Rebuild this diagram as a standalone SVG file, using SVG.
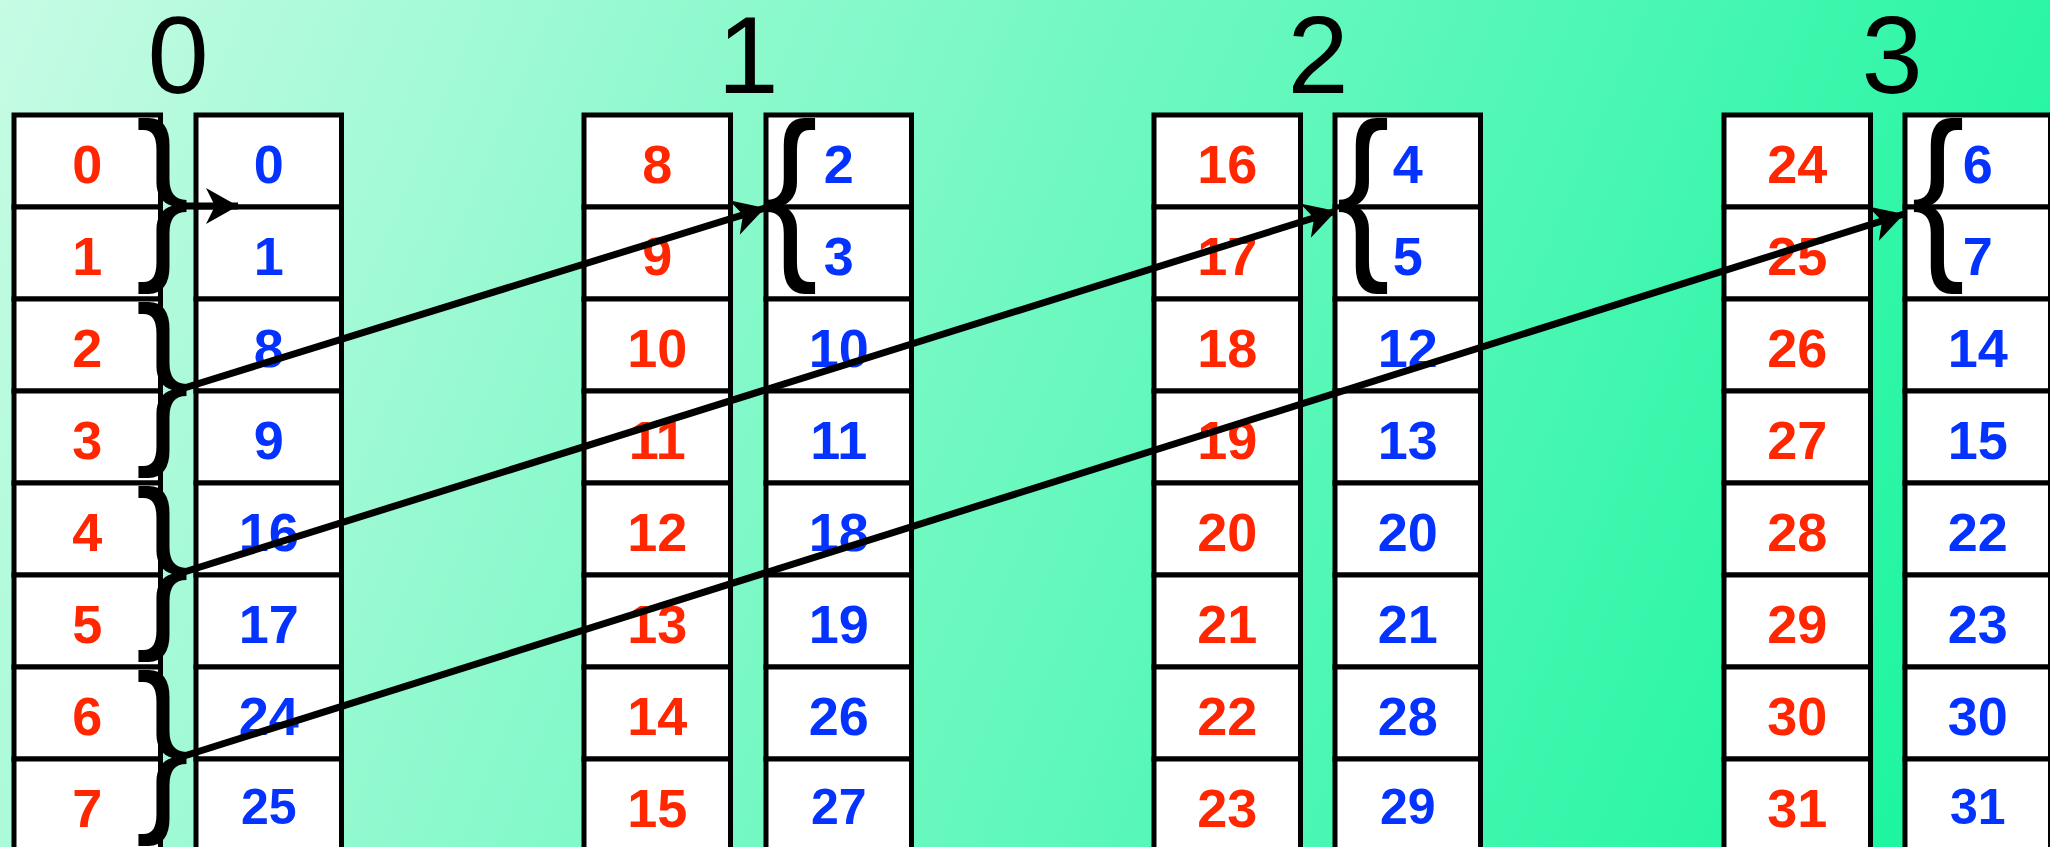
<svg xmlns="http://www.w3.org/2000/svg" width="2050" height="847" viewBox="0 0 2050 847">
<defs>
<linearGradient id="bg" gradientUnits="userSpaceOnUse" x1="0" y1="0" x2="2050" y2="847">
<stop offset="0" stop-color="#C6FBE4"/>
<stop offset="1" stop-color="#12F59C"/>
</linearGradient>
<marker id="ah" markerUnits="userSpaceOnUse" markerWidth="40" markerHeight="40" viewBox="-34 -20 40 40" refX="0" refY="0" orient="auto">
<path d="M0,0 L-32,-18 L-23,0 L-32,18 Z" fill="#000"/>
</marker>
<style>
.c{fill:#fff;stroke:#000;stroke-width:5}
.r{font-family:"Liberation Sans",Arial,sans-serif;font-weight:bold;font-size:54px;fill:#FF2600;text-anchor:middle}
.b{font-family:"Liberation Sans",Arial,sans-serif;font-weight:bold;font-size:54px;fill:#0433FF;text-anchor:middle}
.bs{font-size:50px}
.h{font-family:"Liberation Sans",Arial,sans-serif;font-size:110px;fill:#000;text-anchor:middle}
.br{font-family:"Liberation Sans",Arial,sans-serif;font-size:189px;fill:#000;text-anchor:middle}
.a{fill:none;stroke:#000;stroke-width:7;marker-end:url(#ah)}
</style>
</defs>
<rect x="0" y="0" width="2050" height="847" fill="url(#bg)"/>

<g id="labels">
<text class="h" x="178" y="93">0</text>
<text class="h" x="748" y="93">1</text>
<text class="h" x="1318" y="93">2</text>
<text class="h" x="1892" y="93">3</text>
</g>

<g id="red0">
<rect class="c" x="14" y="115" width="146.5" height="92"/><rect class="c" x="14" y="207" width="146.5" height="92"/><rect class="c" x="14" y="299" width="146.5" height="92"/><rect class="c" x="14" y="391" width="146.5" height="92"/><rect class="c" x="14" y="483" width="146.5" height="92"/><rect class="c" x="14" y="575" width="146.5" height="92"/><rect class="c" x="14" y="667" width="146.5" height="92"/><rect class="c" x="14" y="759" width="146.5" height="92"/>
<text class="r" x="87.25" y="183">0</text><text class="r" x="87.25" y="275">1</text><text class="r" x="87.25" y="367">2</text><text class="r" x="87.25" y="459">3</text><text class="r" x="87.25" y="551">4</text><text class="r" x="87.25" y="643">5</text><text class="r" x="87.25" y="735">6</text><text class="r" x="87.25" y="827">7</text>
</g>
<g id="blue0">
<rect class="c" x="196" y="115" width="145.5" height="92"/><rect class="c" x="196" y="207" width="145.5" height="92"/><rect class="c" x="196" y="299" width="145.5" height="92"/><rect class="c" x="196" y="391" width="145.5" height="92"/><rect class="c" x="196" y="483" width="145.5" height="92"/><rect class="c" x="196" y="575" width="145.5" height="92"/><rect class="c" x="196" y="667" width="145.5" height="92"/><rect class="c" x="196" y="759" width="145.5" height="92"/>
<text class="b" x="268.75" y="183">0</text><text class="b" x="268.75" y="275">1</text><text class="b" x="268.75" y="367">8</text><text class="b" x="268.75" y="459">9</text><text class="b" x="268.75" y="551">16</text><text class="b" x="268.75" y="643">17</text><text class="b" x="268.75" y="735">24</text><text class="b bs" x="268.75" y="824">25</text>
</g>

<g id="red1">
<rect class="c" x="584" y="115" width="146.5" height="92"/><rect class="c" x="584" y="207" width="146.5" height="92"/><rect class="c" x="584" y="299" width="146.5" height="92"/><rect class="c" x="584" y="391" width="146.5" height="92"/><rect class="c" x="584" y="483" width="146.5" height="92"/><rect class="c" x="584" y="575" width="146.5" height="92"/><rect class="c" x="584" y="667" width="146.5" height="92"/><rect class="c" x="584" y="759" width="146.5" height="92"/>
<text class="r" x="657.25" y="183">8</text><text class="r" x="657.25" y="275">9</text><text class="r" x="657.25" y="367">10</text><text class="r" x="657.25" y="459">11</text><text class="r" x="657.25" y="551">12</text><text class="r" x="657.25" y="643">13</text><text class="r" x="657.25" y="735">14</text><text class="r" x="657.25" y="827">15</text>
</g>
<g id="blue1">
<rect class="c" x="766" y="115" width="145.5" height="92"/><rect class="c" x="766" y="207" width="145.5" height="92"/><rect class="c" x="766" y="299" width="145.5" height="92"/><rect class="c" x="766" y="391" width="145.5" height="92"/><rect class="c" x="766" y="483" width="145.5" height="92"/><rect class="c" x="766" y="575" width="145.5" height="92"/><rect class="c" x="766" y="667" width="145.5" height="92"/><rect class="c" x="766" y="759" width="145.5" height="92"/>
<text class="b" x="838.75" y="183">2</text><text class="b" x="838.75" y="275">3</text><text class="b" x="838.75" y="367">10</text><text class="b" x="838.75" y="459">11</text><text class="b" x="838.75" y="551">18</text><text class="b" x="838.75" y="643">19</text><text class="b" x="838.75" y="735">26</text><text class="b bs" x="838.75" y="824">27</text>
</g>

<g id="red2">
<rect class="c" x="1154" y="115" width="146.5" height="92"/><rect class="c" x="1154" y="207" width="146.5" height="92"/><rect class="c" x="1154" y="299" width="146.5" height="92"/><rect class="c" x="1154" y="391" width="146.5" height="92"/><rect class="c" x="1154" y="483" width="146.5" height="92"/><rect class="c" x="1154" y="575" width="146.5" height="92"/><rect class="c" x="1154" y="667" width="146.5" height="92"/><rect class="c" x="1154" y="759" width="146.5" height="92"/>
<text class="r" x="1227.25" y="183">16</text><text class="r" x="1227.25" y="275">17</text><text class="r" x="1227.25" y="367">18</text><text class="r" x="1227.25" y="459">19</text><text class="r" x="1227.25" y="551">20</text><text class="r" x="1227.25" y="643">21</text><text class="r" x="1227.25" y="735">22</text><text class="r" x="1227.25" y="827">23</text>
</g>
<g id="blue2">
<rect class="c" x="1335" y="115" width="145.5" height="92"/><rect class="c" x="1335" y="207" width="145.5" height="92"/><rect class="c" x="1335" y="299" width="145.5" height="92"/><rect class="c" x="1335" y="391" width="145.5" height="92"/><rect class="c" x="1335" y="483" width="145.5" height="92"/><rect class="c" x="1335" y="575" width="145.5" height="92"/><rect class="c" x="1335" y="667" width="145.5" height="92"/><rect class="c" x="1335" y="759" width="145.5" height="92"/>
<text class="b" x="1407.75" y="183">4</text><text class="b" x="1407.75" y="275">5</text><text class="b" x="1407.75" y="367">12</text><text class="b" x="1407.75" y="459">13</text><text class="b" x="1407.75" y="551">20</text><text class="b" x="1407.75" y="643">21</text><text class="b" x="1407.75" y="735">28</text><text class="b bs" x="1407.75" y="824">29</text>
</g>

<g id="red3">
<rect class="c" x="1724" y="115" width="146.5" height="92"/><rect class="c" x="1724" y="207" width="146.5" height="92"/><rect class="c" x="1724" y="299" width="146.5" height="92"/><rect class="c" x="1724" y="391" width="146.5" height="92"/><rect class="c" x="1724" y="483" width="146.5" height="92"/><rect class="c" x="1724" y="575" width="146.5" height="92"/><rect class="c" x="1724" y="667" width="146.5" height="92"/><rect class="c" x="1724" y="759" width="146.5" height="92"/>
<text class="r" x="1797.25" y="183">24</text><text class="r" x="1797.25" y="275">25</text><text class="r" x="1797.25" y="367">26</text><text class="r" x="1797.25" y="459">27</text><text class="r" x="1797.25" y="551">28</text><text class="r" x="1797.25" y="643">29</text><text class="r" x="1797.25" y="735">30</text><text class="r" x="1797.25" y="827">31</text>
</g>
<g id="blue3">
<rect class="c" x="1905" y="115" width="145.5" height="92"/><rect class="c" x="1905" y="207" width="145.5" height="92"/><rect class="c" x="1905" y="299" width="145.5" height="92"/><rect class="c" x="1905" y="391" width="145.5" height="92"/><rect class="c" x="1905" y="483" width="145.5" height="92"/><rect class="c" x="1905" y="575" width="145.5" height="92"/><rect class="c" x="1905" y="667" width="145.5" height="92"/><rect class="c" x="1905" y="759" width="145.5" height="92"/>
<text class="b" x="1977.75" y="183">6</text><text class="b" x="1977.75" y="275">7</text><text class="b" x="1977.75" y="367">14</text><text class="b" x="1977.75" y="459">15</text><text class="b" x="1977.75" y="551">22</text><text class="b" x="1977.75" y="643">23</text><text class="b" x="1977.75" y="735">30</text><text class="b bs" x="1977.75" y="824">31</text>
</g>

<g id="braces">
<text class="br" transform="translate(162.5,255) scale(0.85,1)">}</text>
<text class="br" transform="translate(162.5,439) scale(0.85,1)">}</text>
<text class="br" transform="translate(162.5,623) scale(0.85,1)">}</text>
<text class="br" transform="translate(162.5,807) scale(0.85,1)">}</text>
<text class="br" transform="translate(791,255) scale(0.85,1)">{</text>
<text class="br" transform="translate(1363,255) scale(0.85,1)">{</text>
<text class="br" transform="translate(1938,255) scale(0.85,1)">{</text>
</g>

<g id="connectors">
<path class="a" d="M183,206 L238,206"/>
<path class="a" d="M181,389 L765,208"/>
<path class="a" d="M181,573 L1336,211"/>
<path class="a" d="M181,757 L1904,214"/>
</g>
</svg>
